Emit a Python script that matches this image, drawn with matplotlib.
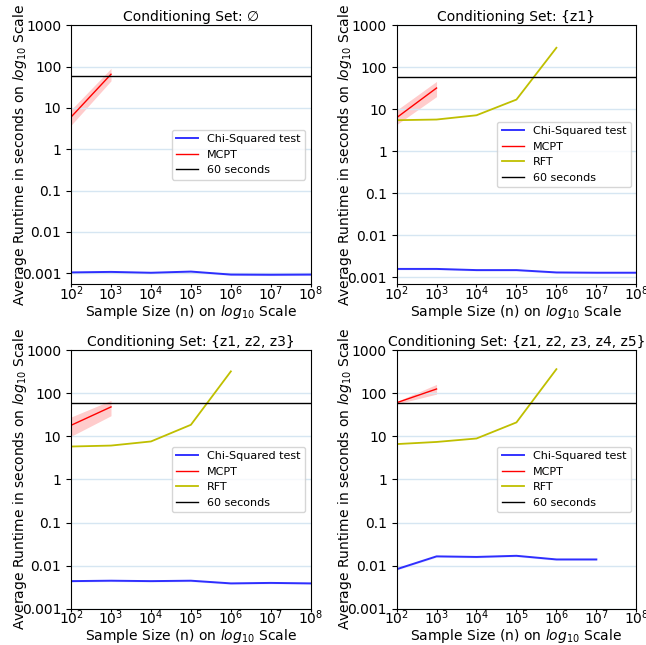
import numpy as np
import matplotlib
matplotlib.use("Agg")
import matplotlib.pyplot as plt

# sample sizes
n_all = [1e2, 1e3, 1e4, 1e5, 1e6, 1e7, 1e8]
n_mcpt = [1e2, 1e3]
n_rft = [1e2, 1e3, 1e4, 1e5, 1e6]

titles = ["Conditioning Set: \u2205", "Conditioning Set: {z1}",
          "Conditioning Set: {z1, z2, z3}", "Conditioning Set: {z1, z2, z3, z4, z5}"]

# chi-squared average runtime
chi0 = [0.00105, 0.00108, 0.00103, 0.00110, 0.00093, 0.00092, 0.00093]
chi1 = [0.0016, 0.0016, 0.0015, 0.0015, 0.00132, 0.0013, 0.0013]
chi3 = [0.0044, 0.0045, 0.0044, 0.0045, 0.0039, 0.0040, 0.0039]
chi5 = [0.0083, 0.0165, 0.016, 0.017, 0.014, 0.014]

# MCPT mean and band
mcpt0 = [6.0, 65.0]
mcpt0_lo = [3.8, 45.0]
mcpt0_hi = [9.0, 90.0]
mcpt1 = [6.3, 32.0]
mcpt1_lo = [4.3, 20.0]
mcpt1_hi = [9.5, 46.0]
mcpt3 = [18.0, 48.0]
mcpt3_lo = [10.0, 30.0]
mcpt3_hi = [28.0, 68.0]
mcpt5 = [60.0, 125.0]
mcpt5_lo = [56.0, 95.0]
mcpt5_hi = [64.0, 160.0]

# RFT
rft1 = [5.5, 5.7, 7.2, 17.0, 290.0]
rft3 = [5.8, 6.1, 7.6, 18.5, 320.0]
rft5 = [6.6, 7.4, 8.9, 21.0, 360.0]

cutoff = 60

panels = [
    (chi0, (mcpt0, mcpt0_lo, mcpt0_hi), None, 5.5e-4),
    (chi1, (mcpt1, mcpt1_lo, mcpt1_hi), rft1, 7e-4),
    (chi3, (mcpt3, mcpt3_lo, mcpt3_hi), rft3, 1e-3),
    (chi5, (mcpt5, mcpt5_lo, mcpt5_hi), rft5, 1e-3),
]

plt.rcParams['font.size'] = 10
fig, axes = plt.subplots(2, 2, figsize=(6.46, 6.45), dpi=100)
axes = axes.flatten()

for i, ax in enumerate(axes):
    chi, mc, rft, ybot = panels[i]
    nchi = n_all[:len(chi)]
    chi = np.array(chi)
    ax.plot(nchi, chi, color='b', lw=1.4, alpha=0.8, label='Chi-Squared test')
    ax.fill_between(nchi, chi * 0.95, chi * 1.05, color='b', alpha=0.1, lw=0)
    ax.plot(n_mcpt, mc[0], color='r', lw=1, label='MCPT')
    ax.fill_between(n_mcpt, mc[1], mc[2], color='r', alpha=0.2, lw=0)
    if rft is not None:
        ax.plot(n_rft, rft, color='y', lw=1.3, label='RFT')
    ax.axhline(cutoff, color='k', lw=1, label='60 seconds')
    ax.set_xscale('log')
    ax.set_yscale('log')
    ax.set_xlim(1e2, 1e8)
    ax.set_ylim(ybot, 1000)
    ax.set_xticks(n_all)
    ax.set_yticks([0.001, 0.01, 0.1, 1, 10, 100, 1000])
    ax.set_yticklabels(['0.001', '0.01', '0.1', '1', '10', '100', '1000'])
    ax.minorticks_off()
    ax.tick_params(axis='x', pad=-2, length=2)
    ax.grid(axis='y', color='#d6e6f2', lw=1)
    ax.set_title(titles[i], fontsize=10, pad=3)
    ax.set_xlabel('Sample Size (n) on $log_{10}$ Scale', labelpad=0)
    ax.set_ylabel('Average Runtime in seconds on $log_{10}$ Scale', labelpad=-5)
    ax.legend(loc='center right', fontsize=8)

plt.subplots_adjust(left=0.11, right=0.985, top=0.961, bottom=0.056, wspace=0.358, hspace=0.255)
fig.savefig('out.png')
